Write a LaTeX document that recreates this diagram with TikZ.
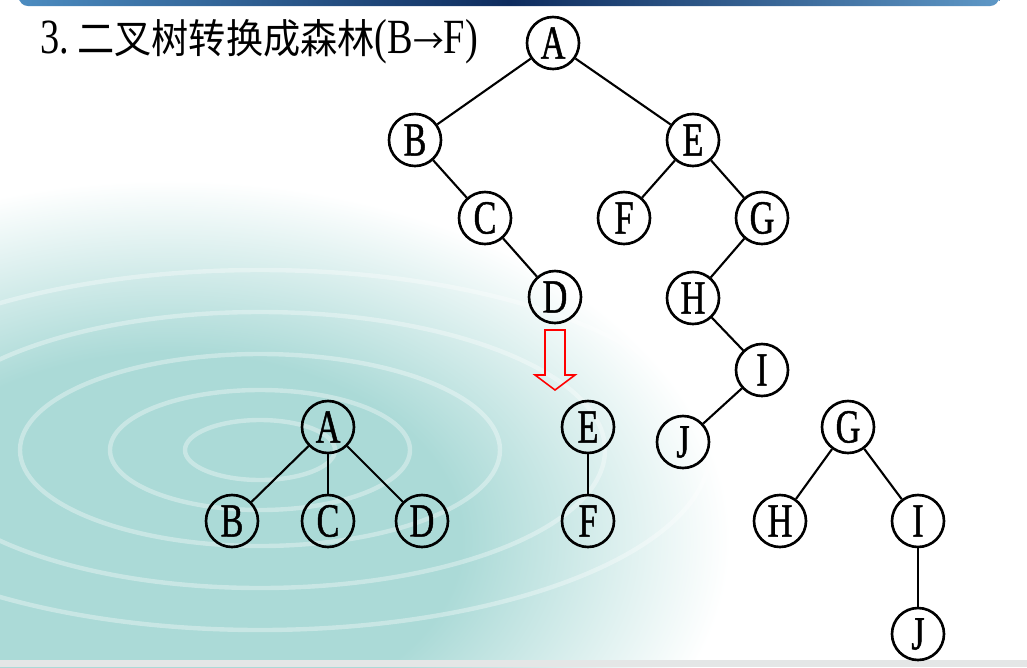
\documentclass[tikz,border=0pt]{standalone}
\usepackage{fontspec}
\newfontfamily\nodefont[FakeStretch=0.72,FakeBold=1]{Liberation Serif}
\newfontfamily\titlefont[FakeStretch=0.78]{Liberation Serif}
\newfontfamily\cjk[FakeStretch=0.92]{Noto Sans CJK SC}
\definecolor{bardark}{HTML}{0E2C5E}
\definecolor{barlight}{HTML}{4C8CC0}
\definecolor{water}{HTML}{ABDAD7}
\definecolor{bandgray}{HTML}{E4E6E6}
\pgfdeclareradialshading{waterglow}{\pgfpoint{0bp}{0bp}}{color(0bp)=(water); color(13bp)=(water); color(25bp)=(white); color(50bp)=(white)}

\begin{document}
\begin{tikzpicture}[x=0.02cm,y=-0.02cm,
    tnode/.style={circle,draw,line width=1.5pt,minimum size=1.04cm,inner sep=0pt,font=\nodefont\fontsize{27}{27}\selectfont},
    edge/.style={line width=1.2pt}]
        \useasboundingbox (0,0) rectangle (1027,667);
        % background
        \fill[white] (0,0) rectangle (1027,667);
        \begin{scope}
            \clip (0,0) rectangle (1027,667);
            \shade[shading=waterglow] (170,540) ellipse (560 and 360);
            \foreach \r in {50,100,160,230,300} {
                \draw[white,line width=2.5pt,opacity=0.35] (260,450) ellipse ({\r*1.5} and \r*0.6);
            }
        \end{scope}
        \fill[bandgray] (0,660) rectangle (1027,667);
        \shade[left color=barlight,right color=barlight!90,middle color=bardark,rounded corners=5pt]
            (19,-8) rectangle (999,6);
        % title
        \node[anchor=base west,inner sep=0pt] (title) at (40,53)
            {\titlefont\fontsize{28}{28}\selectfont 3.\,{\cjk\fontsize{23}{23}\selectfont 二叉树转换成森林}(B{\cjk\fontsize{19}{19}\selectfont →}F)};
        % binary tree
        \node[tnode] (bA) at (553,43) {A};
        \node[tnode] (bB) at (415,140) {B};
        \node[tnode] (bE) at (693,140) {E};
        \node[tnode] (bC) at (485,218) {C};
        \node[tnode] (bF) at (624,218) {F};
        \node[tnode] (bG) at (762,218) {G};
        \node[tnode] (bD) at (555,297) {D};
        \node[tnode] (bH) at (693,298) {H};
        \node[tnode] (bI) at (762,370) {I};
        \node[tnode] (bJ) at (683,442) {J};
        \draw[edge] (bA) -- (bB);
        \draw[edge] (bA) -- (bE);
        \draw[edge] (bB) -- (bC);
        \draw[edge] (bC) -- (bD);
        \draw[edge] (bE) -- (bF);
        \draw[edge] (bE) -- (bG);
        \draw[edge] (bG) -- (bH);
        \draw[edge] (bH) -- (bI);
        \draw[edge] (bI) -- (bJ);
        % arrow
        \draw[red,line width=0.9pt] (545,330) -- (565,330) -- (565,375) -- (575,375)
            -- (555,390) -- (535,375) -- (545,375) -- cycle;
        % forest
        \node[tnode] (fA) at (328,427) {A};
        \node[tnode] (fB) at (232,521) {B};
        \node[tnode] (fC) at (328,521) {C};
        \node[tnode] (fD) at (422,521) {D};
        \node[tnode] (fE) at (588,427) {E};
        \node[tnode] (fF) at (588,521) {F};
        \node[tnode] (fG) at (848,427) {G};
        \node[tnode] (fH) at (780,521) {H};
        \node[tnode] (fI) at (918,521) {I};
        \node[tnode] (fJ) at (918,634) {J};
        \draw[edge] (fA) -- (fB);
        \draw[edge] (fA) -- (fC);
        \draw[edge] (fA) -- (fD);
        \draw[edge] (fE) -- (fF);
        \draw[edge] (fG) -- (fH);
        \draw[edge] (fG) -- (fI);
        \draw[edge] (fI) -- (fJ);
    \end{tikzpicture}
\end{document}
